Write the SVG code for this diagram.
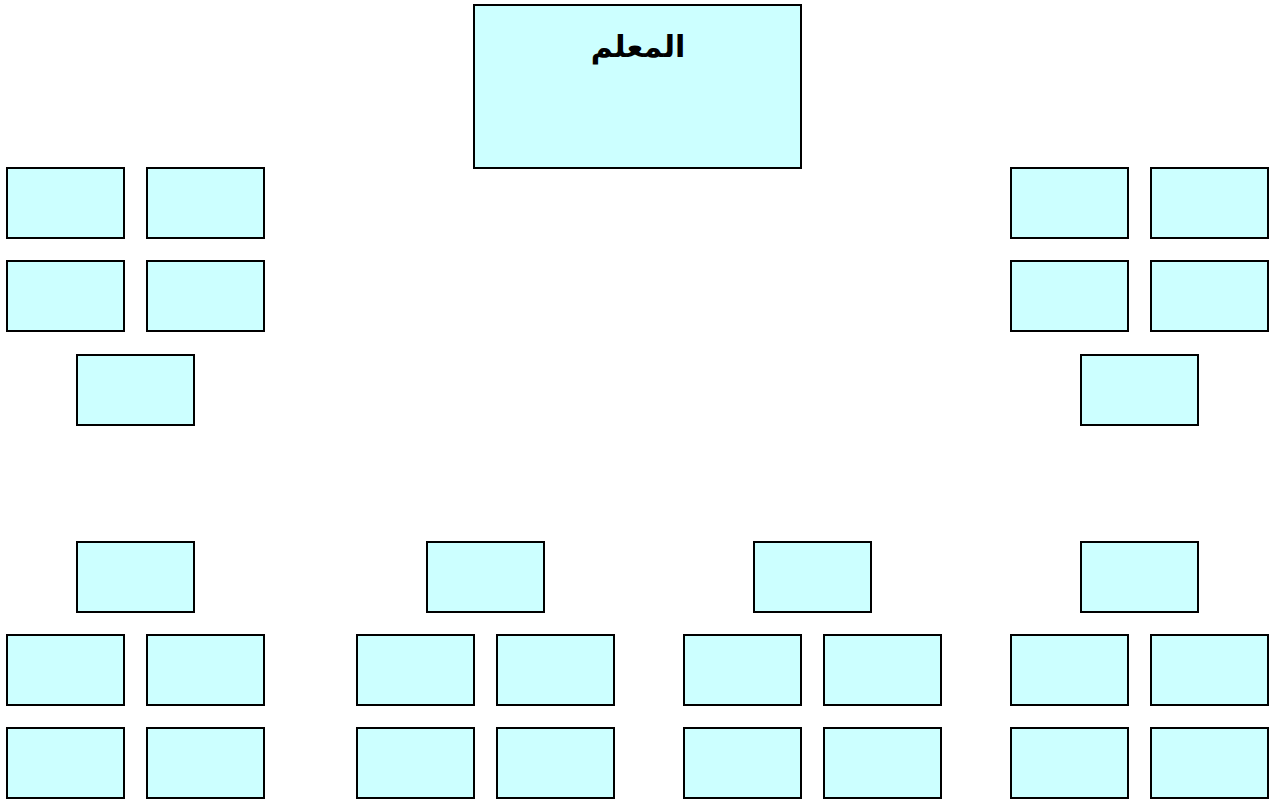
<svg xmlns="http://www.w3.org/2000/svg" width="1278" height="800" viewBox="0 0 1278 800">
<style>
.box{fill:#ccffff;stroke:#000;stroke-width:2}
.title{font-family:"DejaVu Sans","Noto Sans",sans-serif;font-weight:bold;font-size:30px;fill:#000}
</style>
<rect width="1278" height="800" fill="#fff"/>
<g id="root"><rect class="box" x="474" y="5" width="327" height="163"/><text class="title" x="638" y="57" text-anchor="middle" direction="rtl">المعلم</text></g>
<g id="L1"><rect class="box" x="7" y="168" width="117" height="70"/></g>
<g id="L2"><rect class="box" x="147" y="168" width="117" height="70"/></g>
<g id="L3"><rect class="box" x="7" y="261" width="117" height="70"/></g>
<g id="L4"><rect class="box" x="147" y="261" width="117" height="70"/></g>
<g id="L5"><rect class="box" x="77" y="355" width="117" height="70"/></g>
<g id="R1"><rect class="box" x="1011" y="168" width="117" height="70"/></g>
<g id="R2"><rect class="box" x="1151" y="168" width="117" height="70"/></g>
<g id="R3"><rect class="box" x="1011" y="261" width="117" height="70"/></g>
<g id="R4"><rect class="box" x="1151" y="261" width="117" height="70"/></g>
<g id="R5"><rect class="box" x="1081" y="355" width="117" height="70"/></g>
<g id="B1"><rect class="box" x="77" y="542" width="117" height="70"/></g>
<g id="B1a"><rect class="box" x="7" y="635" width="117" height="70"/></g>
<g id="B1b"><rect class="box" x="147" y="635" width="117" height="70"/></g>
<g id="B1c"><rect class="box" x="7" y="728" width="117" height="70"/></g>
<g id="B1d"><rect class="box" x="147" y="728" width="117" height="70"/></g>
<g id="B2"><rect class="box" x="427" y="542" width="117" height="70"/></g>
<g id="B2a"><rect class="box" x="357" y="635" width="117" height="70"/></g>
<g id="B2b"><rect class="box" x="497" y="635" width="117" height="70"/></g>
<g id="B2c"><rect class="box" x="357" y="728" width="117" height="70"/></g>
<g id="B2d"><rect class="box" x="497" y="728" width="117" height="70"/></g>
<g id="B3"><rect class="box" x="754" y="542" width="117" height="70"/></g>
<g id="B3a"><rect class="box" x="684" y="635" width="117" height="70"/></g>
<g id="B3b"><rect class="box" x="824" y="635" width="117" height="70"/></g>
<g id="B3c"><rect class="box" x="684" y="728" width="117" height="70"/></g>
<g id="B3d"><rect class="box" x="824" y="728" width="117" height="70"/></g>
<g id="B4"><rect class="box" x="1081" y="542" width="117" height="70"/></g>
<g id="B4a"><rect class="box" x="1011" y="635" width="117" height="70"/></g>
<g id="B4b"><rect class="box" x="1151" y="635" width="117" height="70"/></g>
<g id="B4c"><rect class="box" x="1011" y="728" width="117" height="70"/></g>
<g id="B4d"><rect class="box" x="1151" y="728" width="117" height="70"/></g>
<g id="connectors"></g>
</svg>
